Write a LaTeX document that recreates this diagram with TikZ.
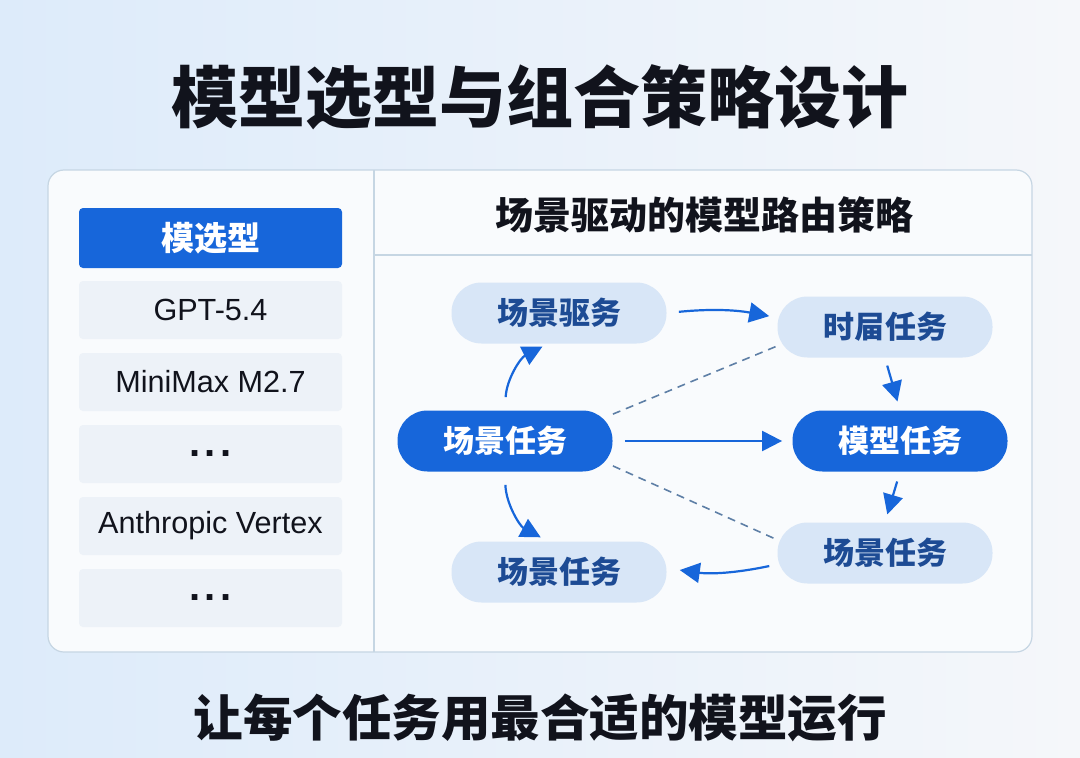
\documentclass[tikz,border=0pt]{standalone}
\usepackage{fontspec}
\setmainfont{Noto Sans CJK SC}
\newfontfamily\latinsans{Liberation Sans}
\usetikzlibrary{arrows.meta}
\definecolor{MSBlue}{HTML}{1766DA}
\definecolor{MSPale}{HTML}{D8E6F7}
\definecolor{MSInk}{HTML}{1D4B94}
\definecolor{MSRow}{HTML}{EDF2F8}
\definecolor{MSLine}{HTML}{C6D6E3}
\definecolor{MSDash}{HTML}{5E7FA6}
\definecolor{MSText}{HTML}{11131C}
\definecolor{MSBgL}{HTML}{DDEBFA}
\definecolor{MSBgR}{HTML}{F5F7FA}
\definecolor{MSPanel}{HTML}{F9FBFD}
\newcommand{\rowdots}{.\kern2pt.\kern2pt.}

\begin{document}
\begin{tikzpicture}[x=0.5pt,y=0.5pt,
  pill/.style={rounded corners=15pt,minimum width=107.5pt,minimum height=30.5pt,inner sep=0pt,font=\fontsize{15.5}{18}\selectfont\bfseries},
  darkpill/.style={pill,fill=MSBlue,text=white},
  palepill/.style={pill,fill=MSPale,text=MSInk},
  rowbox/.style={rounded corners=2pt,minimum width=131.5pt,minimum height=29pt,inner sep=0pt,fill=MSRow,text=MSText,font=\latinsans\fontsize{15.3}{18}\selectfont},
  dotsbox/.style={rowbox,font=\latinsans\fontsize{20}{20}\selectfont\bfseries},
  flow/.style={draw=MSBlue,line width=1.1pt,-{Triangle[length=10pt,width=10pt]}},
  hint/.style={draw=MSDash,line width=0.8pt,dash pattern=on 4pt off 3pt}]
\path[use as bounding box] (0,0) rectangle (1080,757);
\shade[left color=MSBgL,right color=MSBgR] (0,0) rectangle (1080,757);
\node[text=MSText,font=\fontsize{33.5}{40}\selectfont\bfseries] (title) at (540,660) {模型选型与组合策略设计};
\draw[MSLine,fill=MSPanel,line width=0.6pt,rounded corners=8pt] (48,105) rectangle (1032,587);
\draw[MSLine,line width=0.6pt] (374,105) -- (374,587);
\draw[MSLine,line width=0.6pt] (374,502) -- (1032,502);
\node[rowbox,fill=MSBlue,text=white,minimum height=30pt,font=\fontsize{16.5}{20}\selectfont\bfseries] (hdrL) at (210.5,519) {模选型};
\node[rowbox] (m1) at (210.5,447) {GPT-5.4};
\node[rowbox] (m2) at (210.5,375) {MiniMax M2.7};
\node[dotsbox] (m3) at (210.5,303) {\rowdots};
\node[rowbox] (m4) at (210.5,231) {Anthropic Vertex};
\node[dotsbox] (m5) at (210.5,159) {\rowdots};
\node[text=MSText,font=\fontsize{19}{22}\selectfont\bfseries] (hdrR) at (704,542) {场景驱动的模型路由策略};
\node[palepill] (sd) at (559,444) {场景驱务};
\node[palepill] (sj) at (885,430) {时屇任务};
\node[darkpill] (st) at (505,316) {场景任务};
\node[darkpill] (mx) at (900,316) {模型任务};
\node[palepill] (sr) at (885,204) {场景任务};
\node[palepill] (sb) at (559,185) {场景任务};
\draw[hint] (st.14) -- (sj.190);
\draw[hint] (st.347) -- (sr.173);
\draw[flow,shorten <=6pt,shorten >=4pt] (sd.east) to[bend left=8] (sj.175);
\draw[flow,shorten <=6.5pt,shorten >=3pt] (st.north) to[bend left=30] (sd.250);
\draw[flow,shorten <=6.5pt,shorten >=4pt] (st.south) to[bend right=30] (sb.110);
\draw[flow,shorten <=6pt,shorten >=5pt] (st.east) -- (mx.west);
\draw[flow,shorten <=4pt,shorten >=4.5pt] (sj.south) -- (mx.north);
\draw[flow,shorten <=5pt,shorten >=4pt] (mx.south) -- (sr.north);
\draw[flow,shorten <=4pt,shorten >=6.5pt] (sr.186) to[bend left=10] (sb.2);
\node[text=MSText,font=\fontsize{24.75}{30}\selectfont\bfseries] (caption) at (540,39) {让每个任务用最合适的模型运行};
\end{tikzpicture}
\end{document}
